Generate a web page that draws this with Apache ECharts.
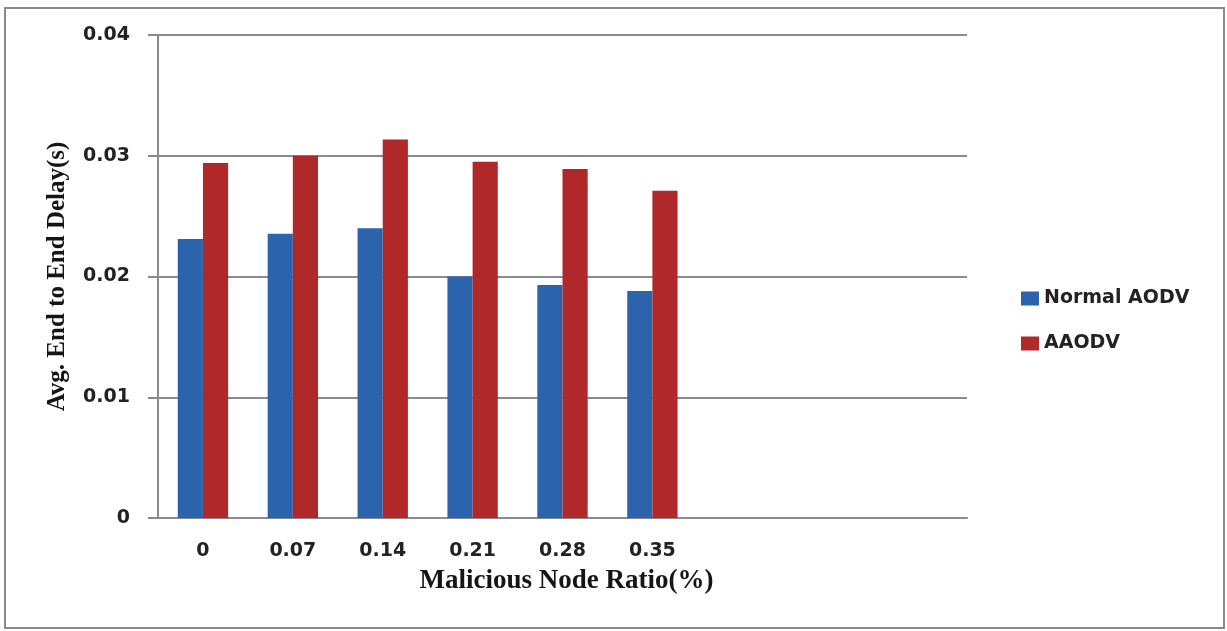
<!DOCTYPE html>
<html>
<head>
<meta charset="utf-8">
<title>Avg. End to End Delay</title>
<script src="https://cdn.jsdelivr.net/npm/echarts@6/dist/echarts.min.js"></script>
<style>
  html, body { margin: 0; padding: 0; background: #ffffff; }
  #chart { width: 1227px; height: 631px; }
</style>
</head>
<body>
<div id="chart"></div>
<script>
// Malicious node ratio categories (three trailing empty slots on the axis)
const categories = ['0', '0.07', '0.14', '0.21', '0.28', '0.35', '', '', ''];

// Average end-to-end delay in seconds
const normalAodv = [0.0231, 0.02355, 0.0240, 0.0200, 0.0193, 0.0188];
const aaodv = [0.0294, 0.0300, 0.03135, 0.0295, 0.0289, 0.0271];

const yTicks = { min: 0, max: 0.04, interval: 0.01 };

const seriesNames = ['Normal AODV', 'AAODV'];
const seriesColors = ['#2b64ad', '#b0282a'];

const labelFont = { fontFamily: 'DejaVu Sans', fontWeight: 'bold', fontSize: 19, color: '#222222' };
const titleFont = { fontFamily: 'Liberation Serif', fontWeight: 'bold', color: '#151515' };
const lineGray = '#8a8a8a';

const chart = echarts.init(document.getElementById('chart'), null, { renderer: 'canvas' });

chart.setOption({
  backgroundColor: '#ffffff',
  animation: false,
  grid: { left: 158, right: 260, top: 35, bottom: 113, containLabel: false },
  legend: {
    orient: 'vertical',
    left: 1016,
    top: 284,
    itemWidth: 18,
    itemHeight: 14,
    itemGap: 26,
    icon: 'rect',
    data: seriesNames,
    textStyle: Object.assign({}, labelFont)
  },
  xAxis: {
    type: 'category',
    data: categories,
    name: 'Malicious Node Ratio(%)',
    nameLocation: 'middle',
    nameGap: 50,
    nameTextStyle: Object.assign({ fontSize: 27, padding: [0, 0, 0, 8] }, titleFont),
    axisLine: { show: true, lineStyle: { color: lineGray, width: 2 } },
    axisTick: { show: false },
    axisLabel: Object.assign({ margin: 24, interval: 0 }, labelFont),
    splitLine: { show: false }
  },
  yAxis: {
    type: 'value',
    min: yTicks.min,
    max: yTicks.max,
    interval: yTicks.interval,
    name: 'Avg. End to End Delay(s)',
    nameLocation: 'middle',
    nameGap: 88,
    nameTextStyle: Object.assign({ fontSize: 25 }, titleFont),
    axisLine: { show: true, lineStyle: { color: lineGray, width: 2 } },
    axisTick: { show: true, length: 10, lineStyle: { color: lineGray, width: 2 } },
    axisLabel: Object.assign({ margin: 28 }, labelFont),
    splitLine: { show: true, lineStyle: { color: lineGray, width: 2 } }
  },
  series: [
    {
      name: seriesNames[0],
      type: 'bar',
      data: normalAodv,
      barGap: '0%',
      barCategoryGap: '44%',
      itemStyle: { color: seriesColors[0] }
    },
    {
      name: seriesNames[1],
      type: 'bar',
      data: aaodv,
      barGap: '0%',
      barCategoryGap: '44%',
      itemStyle: { color: seriesColors[1] }
    }
  ],
  graphic: [
    {
      type: 'rect',
      shape: { x: 5, y: 8, width: 1219, height: 620 },
      style: { fill: 'none', stroke: '#8a8a8a', lineWidth: 2 },
      silent: true,
      z: -1
    }
  ]
});
</script>
</body>
</html>
